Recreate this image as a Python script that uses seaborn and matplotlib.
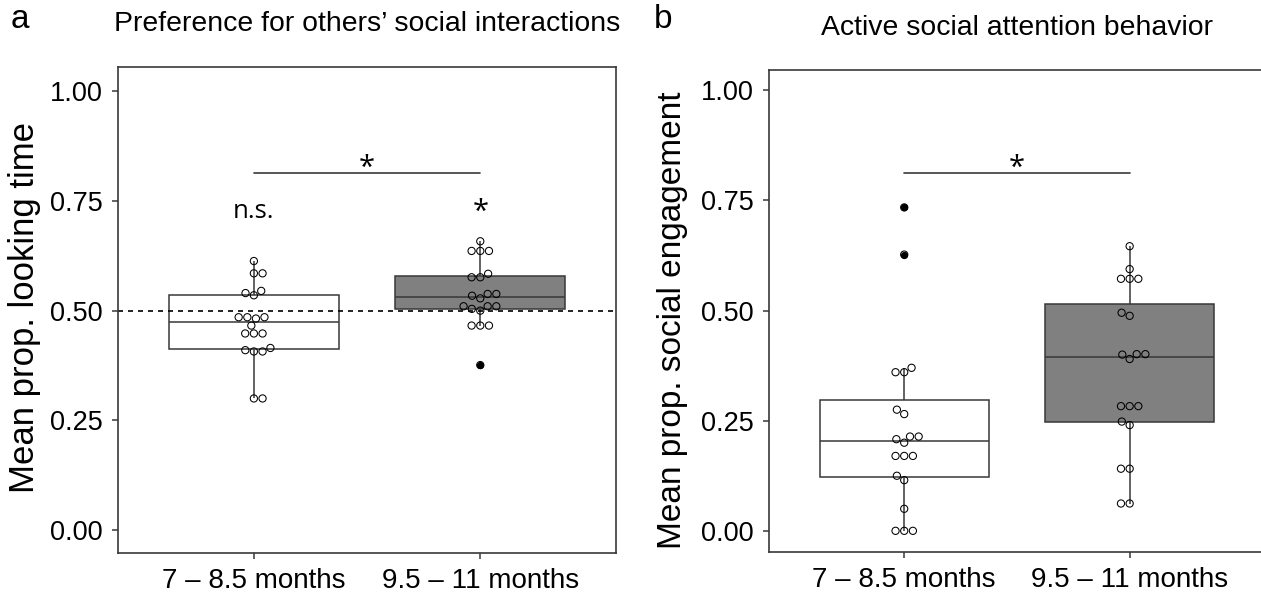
import numpy as np
import pandas as pd
import matplotlib.pyplot as plt
import seaborn as sns

# age groups on the x axis
groups = ["7 – 8.5 months", "9.5 – 11 months"]

# panel a: mean proportion looking time per infant
look_young = [0.300, 0.300, 0.407, 0.407, 0.410, 0.415, 0.448, 0.448, 0.448, 0.466,
              0.482, 0.485, 0.485, 0.485, 0.535, 0.540, 0.545, 0.585, 0.585, 0.613]
look_old = [0.376, 0.466, 0.466, 0.466, 0.500, 0.504, 0.510, 0.510, 0.510, 0.528,
            0.534, 0.538, 0.538, 0.576, 0.576, 0.584, 0.636, 0.636, 0.636, 0.658]

# panel b: mean proportion social engagement per infant
engage_young = [0.000, 0.000, 0.000, 0.050, 0.115, 0.125, 0.170, 0.170, 0.170, 0.200,
                0.208, 0.214, 0.214, 0.265, 0.275, 0.360, 0.360, 0.370, 0.627, 0.734]
engage_old = [0.062, 0.062, 0.141, 0.141, 0.240, 0.248, 0.283, 0.283, 0.283, 0.390,
              0.400, 0.401, 0.401, 0.488, 0.495, 0.572, 0.572, 0.572, 0.594, 0.646]

box_colors = ["white", "#808080"]
line_col = "#383838"

sns.set_style("white")
plt.rcParams['font.family'] = ['Liberation Sans', 'DejaVu Sans']
plt.rcParams['text.color'] = 'black'
plt.rcParams['axes.labelcolor'] = 'black'
plt.rcParams['xtick.labelcolor'] = 'black'
plt.rcParams['ytick.labelcolor'] = 'black'

fig = plt.figure(figsize=(12.61, 5.99), dpi=100)
ax_a = fig.add_axes([0.0936, 0.0768, 0.395, 0.8114])
ax_b = fig.add_axes([0.6098, 0.0785, 0.3933, 0.8047])


def draw_panel(ax, young, old, ylim, ylabel, title):
    df = pd.DataFrame({"group": [groups[0]] * len(young) + [groups[1]] * len(old),
                       "value": young + old})
    sns.boxplot(data=df, x="group", y="value", hue="group", order=groups, hue_order=groups,
                palette=box_colors, width=0.75, linewidth=1.1, linecolor=line_col,
                showcaps=False, legend=False, ax=ax,
                flierprops=dict(marker="o", markersize=4.2, markerfacecolor="black",
                                markeredgecolor="black"))
    n0 = len(ax.collections)
    sns.swarmplot(data=df, x="group", y="value", order=groups, size=5.2, color="black",
                  linewidth=0.75, ax=ax)
    for coll in ax.collections[n0:]:
        coll.set_facecolor("none")
        coll.set_edgecolor("black")
        coll.set_zorder(4)
    ax.set_xlim(-0.6, 1.6)
    ax.set_ylim(*ylim)
    ax.set_yticks([0, 0.25, 0.5, 0.75, 1.0])
    ax.set_yticklabels(["0.00", "0.25", "0.50", "0.75", "1.00"])
    ax.set_xlabel("")
    ax.set_ylabel(ylabel, fontsize=24)
    ax.tick_params(axis="both", length=4, width=1.1, color=line_col, labelsize=19.5,
                   bottom=True, left=True, pad=7)
    ax.tick_params(axis="x", labelsize=20)
    for sp in ax.spines.values():
        sp.set_color(line_col)
        sp.set_linewidth(1.2)
    ax.text(0.5, 1.088, title, transform=ax.transAxes, ha="center", va="center", fontsize=20.4)
    # significance bar between the two age groups
    ax.plot([0, 1], [0.813, 0.813], color=line_col, lw=1.2)
    ax.text(0.5, 0.806, "*", ha="center", va="baseline", fontsize=21,
            family=["Open Sans", "DejaVu Sans"])


draw_panel(ax_a, look_young, look_old, (-0.052, 1.055), "Mean prop. looking time",
           "Preference for others’ social interactions")
draw_panel(ax_b, engage_young, engage_old, (-0.048, 1.046), "Mean prop. social engagement",
           "Active social attention behavior")
ax_a.yaxis.label.set_fontsize(25)

# chance level and tests against chance in panel a
ax_a.axhline(0.5, color="black", ls=(0, (3, 3)), lw=1.2, zorder=2.5)
ax_a.text(0, 0.711, "n.s.", ha="center", va="baseline", fontsize=18.5,
          family=["Open Sans", "DejaVu Sans"])
ax_a.text(1, 0.706, "*", ha="center", va="baseline", fontsize=21,
          family=["Open Sans", "DejaVu Sans"])

ax_a.yaxis.set_label_coords(-0.155, 0.505)
ax_b.yaxis.set_label_coords(-0.163, 0.48)

fig.text(20 / 1261, 1 - 20 / 599, "a", ha="center", va="center", fontsize=24)
fig.text(663 / 1261, 1 - 19 / 599, "b", ha="center", va="center", fontsize=24)

fig.savefig("out.png", dpi=100)
